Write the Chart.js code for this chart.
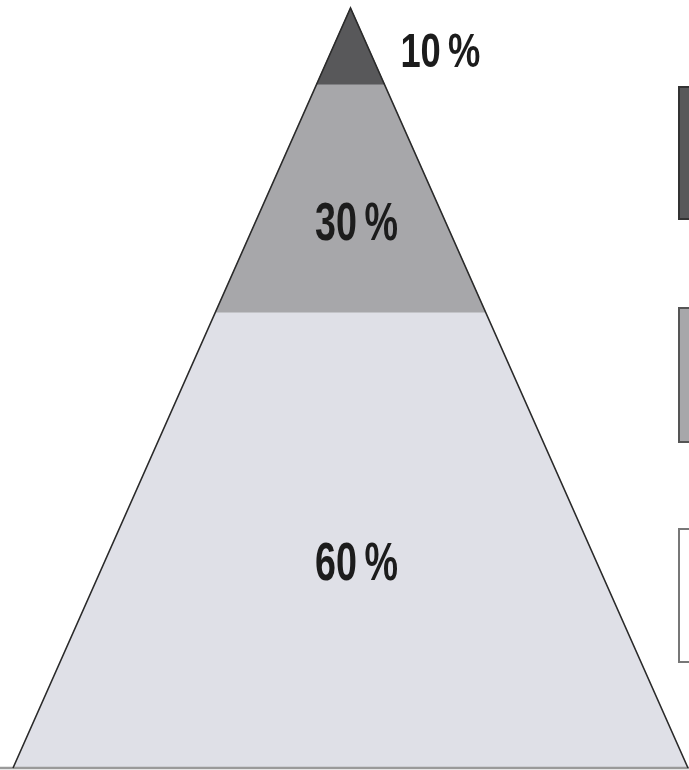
<!DOCTYPE html>
<html>
<head>
<meta charset="utf-8">
<script src="https://cdn.jsdelivr.net/npm/chart.js@4.4.1/dist/chart.umd.min.js"></script>
<style>
  html, body { margin: 0; padding: 0; background: #ffffff; overflow: hidden; }
  #wrap { position: relative; width: 689px; height: 770px; }
  #pyr { position: absolute; left: 0; top: 0; }
  .key { position: absolute; left: 678px; width: 30px; box-sizing: border-box; }
</style>
</head>
<body>
<div id="wrap">
  <canvas id="pyr" width="689" height="770"></canvas>
  <div class="key" id="key0" style="top:86px;height:134px;"></div>
  <div class="key" id="key1" style="top:307px;height:136px;"></div>
  <div class="key" id="key2" style="top:528px;height:135px;"></div>
</div>
<script>
// Pyramid levels, top to bottom
const levels = ['Spitze', 'Mitte', 'Basis'];
const shares = [10, 30, 60];
const shareLabels = ['10\u2009%', '30\u2009%', '60\u2009%'];
const fillColors = ['#58585a', '#a7a7aa', '#dfe0e7'];
const keyBorders = ['#333333', '#555555', '#777777'];
const keyFills = ['#58585a', '#a7a7aa', '#ffffff'];

// cumulative depth (0 = apex, 100 = base) at the top and bottom of each level
const bounds = [0];
shares.forEach(s => bounds.push(bounds[bounds.length - 1] + s));
const total = bounds[bounds.length - 1];
const half = d => d / total; // half-width of the pyramid at depth d

const levelSets = levels.map((name, i) => {
  const a = bounds[i], b = bounds[i + 1];
  return {
    label: name,
    data: [
      { x: -half(a), y: a }, { x: half(a), y: a },
      { x: half(b), y: b }, { x: -half(b), y: b },
      { x: -half(a), y: a }
    ],
    showLine: true,
    fill: 'shape',
    backgroundColor: fillColors[i],
    borderColor: fillColors[i],
    borderWidth: 1,
    pointRadius: 0,
    tension: 0,
    clip: false,
    order: 2
  };
});

const outline = {
  label: 'outline',
  data: [{ x: -1, y: total }, { x: 0, y: 0 }, { x: 1, y: total }],
  showLine: true, fill: false,
  borderColor: '#2a2a2a', borderWidth: 1.6,
  pointRadius: 0, tension: 0, clip: false, order: 0
};
const baseLine = {
  label: 'base',
  data: [{ x: -1.05, y: total }, { x: 1.05, y: total }],
  showLine: true, fill: false,
  borderColor: '#9a9a9a', borderWidth: 2.5,
  pointRadius: 0, tension: 0, clip: false, order: 1
};

// percentage labels: the apex label sits to the right of the tip,
// the others near each trapezoid's centroid (the base label a little higher)
const labelPlugin = {
  id: 'levelLabels',
  afterDatasetsDraw(chart) {
    const { ctx, scales: { x, y } } = chart;
    const nudge = [0, 0, -12];
    ctx.save();
    ctx.fillStyle = '#1c1c1c';
    ctx.textBaseline = 'alphabetic';
    shares.forEach((s, i) => {
      const a = bounds[i], b = bounds[i + 1];
      const wa = half(a), wb = half(b);
      if (i === 0) {
        const size = 48;
        ctx.font = 'bold ' + size + 'px "Liberation Sans Narrow", "Arial Narrow", "Liberation Sans", sans-serif';
        ctx.textAlign = 'left';
        const yc = y.getPixelForValue((a + b) / 2) + 4;
        ctx.fillText(shareLabels[i], x.getPixelForValue(half((a + b) / 2)) + 33, yc + 0.358 * size, 80);
      } else {
        const size = 54;
        const cy = a + (b - a) * (wa + 2 * wb) / (3 * (wa + wb));
        ctx.font = 'bold ' + size + 'px "Liberation Sans Narrow", "Arial Narrow", "Liberation Sans", sans-serif';
        ctx.textAlign = 'center';
        const yc = y.getPixelForValue(cy) + nudge[i];
        ctx.fillText(shareLabels[i], x.getPixelForValue(0) + 6, yc + 0.358 * size, 83);
      }
    });
    ctx.restore();
  }
};

new Chart(document.getElementById('pyr'), {
  type: 'scatter',
  data: { datasets: [outline, baseLine, ...levelSets] },
  options: {
    responsive: false,
    animation: false,
    layout: { padding: { left: 13, right: 1, top: 8, bottom: 2 } },
    scales: {
      x: { type: 'linear', min: -1, max: 1, display: false },
      y: { type: 'linear', min: 0, max: total, reverse: true, display: false }
    },
    plugins: { legend: { display: false }, tooltip: { enabled: false } }
  },
  plugins: [labelPlugin]
});

keyFills.forEach((c, i) => {
  const el = document.getElementById('key' + i);
  el.style.background = c;
  el.style.border = '2px solid ' + keyBorders[i];
});
</script>
</body>
</html>
